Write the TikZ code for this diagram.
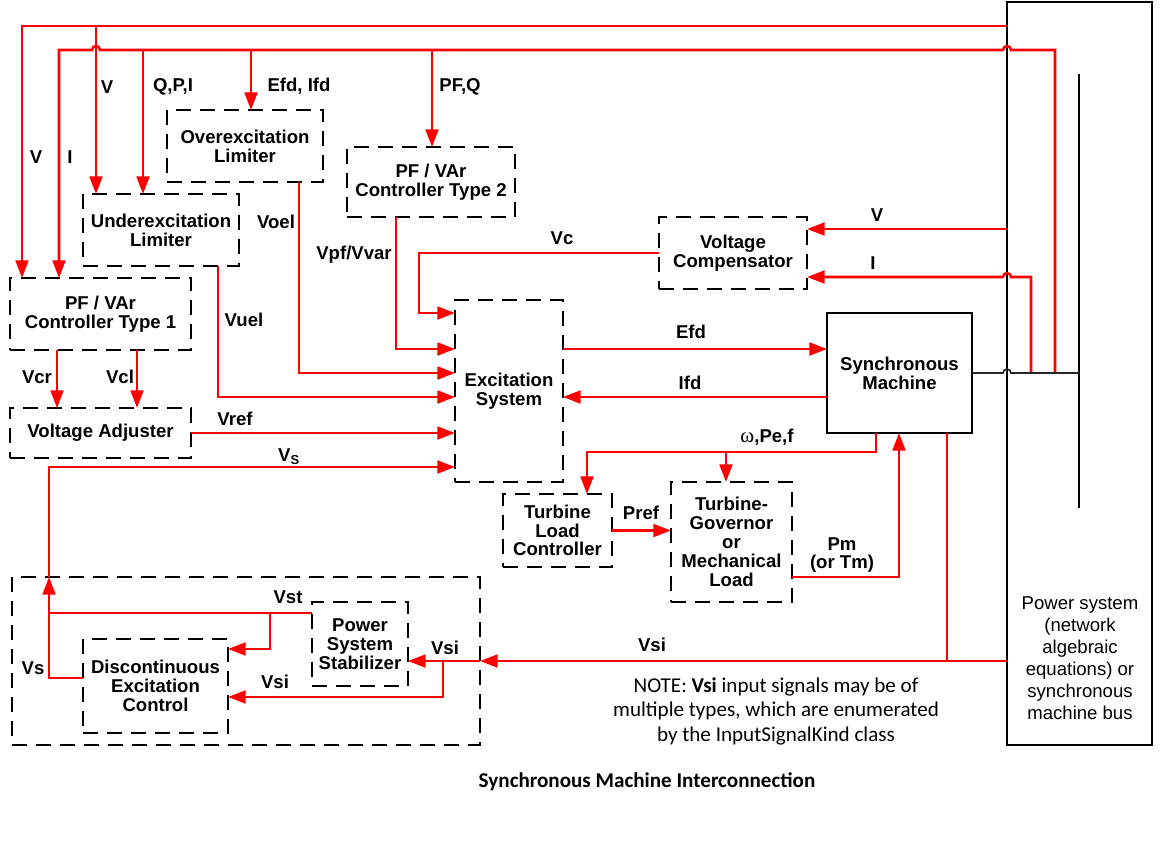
\documentclass[tikz,border=0pt]{standalone}
\usepackage{fontspec}
\setmainfont{Liberation Sans}
\newfontfamily\notefont{Carlito}
\newfontfamily\greekfont{Liberation Serif}
\usepackage{tikz}
\usetikzlibrary{arrows.meta, positioning}

\newlength\px
\setlength\px{0.025cm}

\begin{document}
\begin{tikzpicture}[
  x=0.025cm, y=-0.025cm,
  font=\fontsize{13.2}{13.4}\selectfont\bfseries,
  >={Triangle[length=0.44cm, width=0.32cm]},
  size/.style 2 args={minimum width=#1\px, minimum height=#2\px},
  dblock/.style={rectangle, draw, line width=2.1pt, dash pattern=on 0.375cm off 0.225cm, align=center, inner sep=0pt, outer sep=0pt, anchor=north west},
  block/.style={rectangle, draw, line width=2.1pt, align=center, inner sep=0pt, outer sep=0pt, anchor=north west},
  wire/.style={red, line width=1.8pt},
  arrow/.style={wire, ->},
  busline/.style={black!85, line width=1.2pt},
  lbl/.style={inner sep=0pt}
]
\useasboundingbox (0,0) rectangle (1163,850);

% Limiters and controllers
\node[dblock, size={156}{72}] (oel) at (167,110) {Overexcitation\\Limiter};
\node[dblock, size={156}{72}] (uel) at (83,194) {Underexcitation\\Limiter};
\node[dblock, size={168}{70}] (pftwo) at (347,147) {PF / VAr\\Controller Type 2};
\node[dblock, size={181}{72}] (pfone) at (10,278) {PF / VAr\\Controller Type 1};
\node[dblock, size={181}{50}] (vadj) at (10,408) {Voltage Adjuster};
\node[dblock, size={148}{72}] (vcomp) at (659,217) {Voltage\\Compensator};

% Excitation system and machine
\node[dblock, size={108}{182}] (exc) at (455,300) {Excitation\\System};
\node[block, size={145}{120}] (sm) at (827,313) {Synchronous\\Machine};

% Turbine side
\node[dblock, size={109}{73}] (tlc) at (503,494) {Turbine\\Load\\Controller};
\node[dblock, size={121}{120}] (gov) at (671,482) {Turbine-\\Governor\\or\\Mechanical\\Load};

% Stabilizer group
\node[dblock, size={468}{168}] (stab) at (12,577) {};
\node[dblock, size={96}{84}] (pss) at (312,602) {Power\\System\\Stabilizer};
\node[dblock, size={145}{94}] (dec) at (83,639) {Discontinuous\\Excitation\\Control};

% Power system and bus
\node[block, size={145}{743}] (ps) at (1007,2) {};
\node[align=center, font=\fontsize{13.2}{15.6}\selectfont\mdseries] (pstext) at (1080,658) {Power system\\(network\\algebraic\\equations) or\\synchronous\\machine bus};
\coordinate (bustop) at (1079,74);
\coordinate (busbot) at (1079,508);
\draw[line width=2.1pt] (bustop) -- (busbot);

% Feeders from the power system
\draw[arrow] (ps.west |- 0,26) -| (22,0 |- pfone.north);
\draw[arrow] (96,26) -- (96,0 |- uel.north);
\draw[arrow] (1055,0 |- sm.east) -- (1055,50) -- (1011,50) arc[start angle=0, end angle=-180, radius=4] -- (100,50) arc[start angle=0, end angle=-180, radius=4] -| (59,0 |- pfone.north);
\draw[arrow] (143,50) -- (143,0 |- uel.north);
\draw[arrow] (251,50) -- (251,0 |- oel.north);
\draw[arrow] (432,50) -- (432,0 |- pftwo.north);
\draw[arrow] (ps.west |- 0,229) -- (vcomp.east |- 0,229);
\draw[arrow] (1031,0 |- sm.east) -- (1031,277) -- (1011,277) arc[start angle=0, end angle=-180, radius=4] -- (vcomp.east |- 0,277);
\draw[busline] (sm.east) -- (1003,0 |- sm.east) arc[start angle=180, end angle=360, radius=4] -- (bustop |- sm.east);

% Signals into the excitation system
\draw[arrow] (vcomp.west) -| (419,313) -- (exc.west |- 0,313);
\draw[arrow] (396,0 |- pftwo.south) |- (exc.west |- 0,349);
\draw[arrow] (299,0 |- oel.south) |- (exc.west |- 0,373);
\draw[arrow] (218,0 |- uel.south) |- (exc.west |- 0,397);
\draw[arrow] (57,0 |- pfone.south) -- (57,0 |- vadj.north);
\draw[arrow] (137,0 |- pfone.south) -- (137,0 |- vadj.north);
\draw[arrow] (vadj.east) -- (exc.west |- vadj.east);

% Excitation system <-> machine
\draw[arrow] (exc.east |- 0,349) -- (sm.west |- 0,349);
\draw[arrow] (sm.west |- 0,397) -- (exc.east |- 0,397);

% Turbine and governor
\draw[arrow] (876,0 |- sm.south) |- (587,452) -- (587,0 |- tlc.north);
\draw[arrow] (726,452) -- (726,0 |- gov.north);
\draw[arrow] (tlc.east) -- (gov.west |- tlc.east);
\draw[arrow] (gov.east |- 0,577) -| (899,0 |- sm.south);

% Stabilizer signals
\draw[wire] (947,0 |- sm.south) -- (947,661);
\draw[arrow] (ps.west |- 0,661) -- (stab.east |- 0,661);
\draw[arrow] (stab.east |- 0,661) -- (pss.east |- 0,661);
\draw[arrow] (443,661) |- (dec.east |- 0,697);
\draw[wire] (pss.west |- 0,613) -- (49,613);
\draw[arrow] (270,613) |- (dec.east |- 0,649);
\draw[arrow] (dec.west |- 0,678) -| (49,0 |- stab.north);
\draw[arrow] (49,0 |- stab.north) |- (exc.west |- 0,467);

% Labels
\node[lbl] (lv) at (107,87) {V};
\node[lbl] (lqpi) at (173,87) {Q,P,I};
\node[lbl] (lefd) at (299,86) {Efd, Ifd};
\node[lbl] (lpfq) at (460,87) {PF,Q};
\node[lbl] (lvone) at (36,157) {V};
\node[lbl] (lione) at (70,157) {I};
\node[lbl] (lvoel) at (276,222) {Voel};
\node[lbl] (lvpf) at (354,255) {Vpf/Vvar};
\node[lbl] (lvuel) at (244,320) {Vuel};
\node[lbl] (lvc) at (562,238) {Vc};
\node[lbl] (lvcomp) at (877,215) {V};
\node[lbl] (licomp) at (873,263) {I};
\node[lbl] (lvcr) at (37,377) {Vcr};
\node[lbl] (lvcl) at (120,377) {Vcl};
\node[lbl] (lvref) at (235,419) {Vref};
\node[lbl] (lvs) at (289,457) {V\textsubscript{S}};
\node[lbl] (lexfd) at (691,332) {Efd};
\node[lbl] (lifd) at (690,383) {Ifd};
\node[lbl] (lwpf) at (767,437) {{\greekfont\mdseries\fontsize{15}{15}\selectfont ω},Pe,f};
\node[lbl] (lpref) at (641,513) {Pref};
\node[lbl, align=center] (lpm) at (842,555) {Pm\\(or Tm)};
\node[lbl] (lvsi) at (652,645) {Vsi};
\node[lbl] (lvst) at (288,597) {Vst};
\node[lbl] (lvsloop) at (33,668) {Vs};
\node[lbl] (lvsipss) at (445,648) {Vsi};
\node[lbl] (lvsidec) at (275,682) {Vsi};

% Note and title
\node[align=center, font=\notefont\fontsize{15}{17.4}\selectfont\mdseries] (note) at (776,711) {NOTE: \textbf{Vsi} input signals may be of\\multiple types, which are enumerated\\by the InputSignalKind class};
\node[font=\notefont\fontsize{15}{17}\selectfont\bfseries] (title) at (647,782) {Synchronous Machine Interconnection};

\end{tikzpicture}
\end{document}
